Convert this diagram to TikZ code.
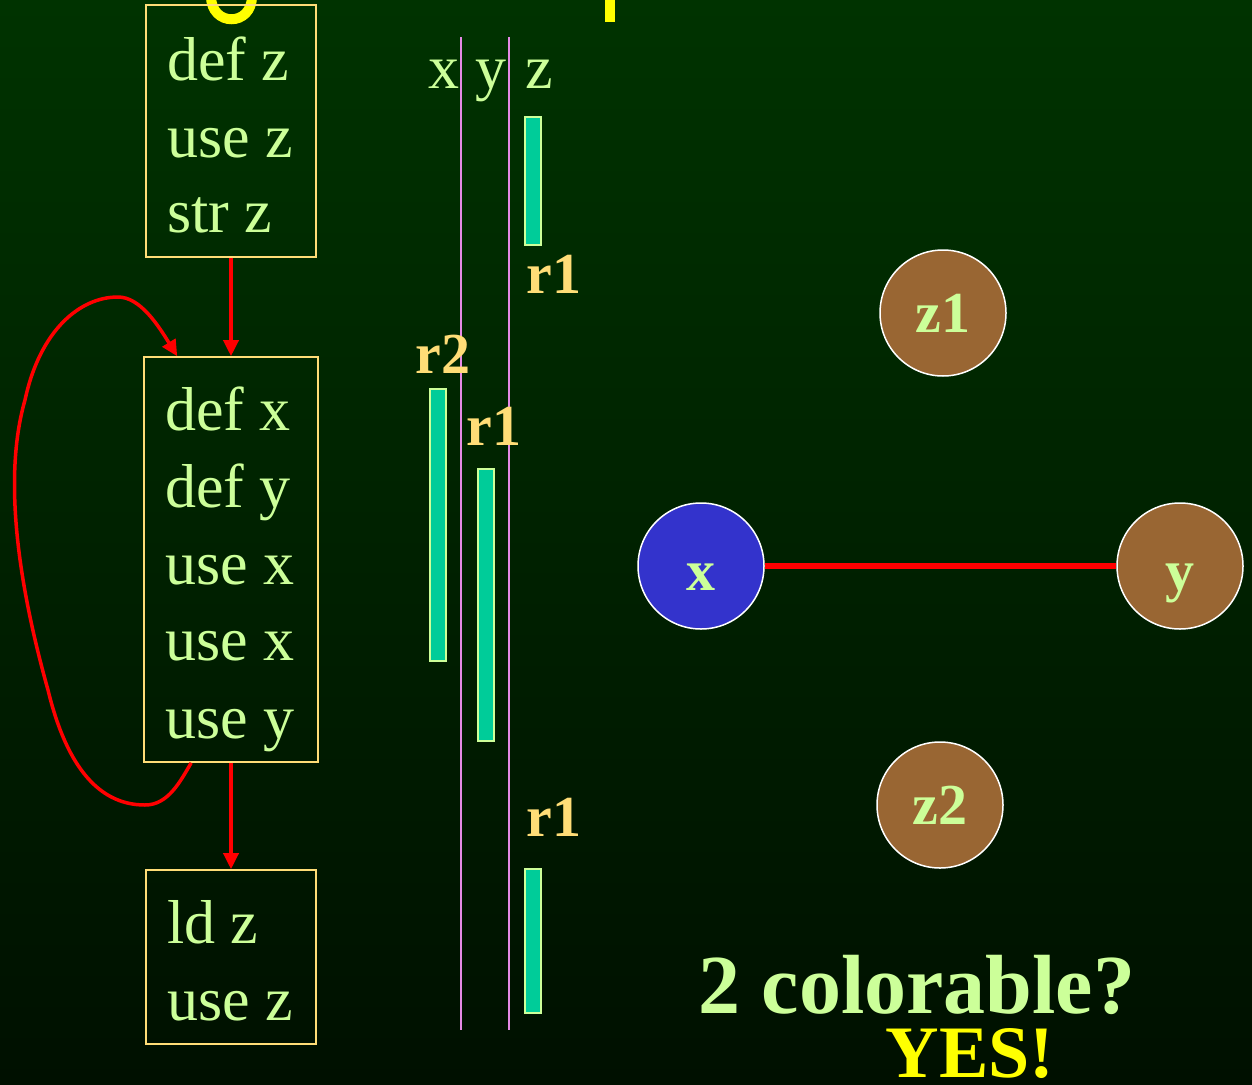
\documentclass[tikz,border=0pt]{standalone}
\usepackage{fontspec}
\setmainfont{Liberation Serif}
\usetikzlibrary{arrows.meta}
\definecolor{bgtop}{HTML}{003300}
\definecolor{bgbot}{HTML}{001000}
\definecolor{txt}{HTML}{CCFF99}
\definecolor{boxc}{HTML}{FFDD77}
\definecolor{lbl}{HTML}{FFDD77}
\definecolor{barc}{HTML}{00CC99}
\definecolor{pinkc}{HTML}{E58AE5}
\definecolor{brownc}{HTML}{996633}
\definecolor{bluec}{HTML}{3333CC}
\definecolor{yel}{HTML}{FFFF00}
\definecolor{redc}{HTML}{FF0000}
\tikzset{
  cfgbox/.style={draw=boxc, line width=1.6pt, rectangle, inner sep=0pt},
  code/.style={text=txt, anchor=base west, inner sep=0pt, font=\fontsize{62}{70}\selectfont},
  hdr/.style={text=txt, anchor=base, inner sep=0pt, font=\fontsize{62}{70}\selectfont},
  reg/.style={text=lbl, anchor=base, inner sep=0pt, font=\bfseries\fontsize{58}{64}\selectfont},
  rangebar/.style={fill=barc, draw=txt, line width=1.4pt},
  sep/.style={draw=pinkc, line width=1.5pt},
  flow/.style={draw=redc, line width=3.5pt, -{Triangle[length=16pt,width=15pt]}},
  gnode/.style={circle, draw=white, line width=1.5pt, minimum size=126pt, inner sep=0pt,
                text=txt, font=\bfseries\fontsize{58}{64}\selectfont},
  lowlabel/.style={text height=48pt, text depth=0pt},
  iedge/.style={draw=redc, line width=6pt}
}
\begin{document}
\begin{tikzpicture}[x=1pt,y=-1pt]
\shade[top color=bgtop, bottom color=bgbot] (0,0) rectangle (1252,1084);
\useasboundingbox (0,0) rectangle (1252,1084);

% title fragments (cut off at the top)
\draw[yel, line width=10pt] (211,-4) .. controls (211,27) and (252,27) .. (252,-4);
\fill[yel] (605,0) rectangle (615,22);

% CFG boxes
\node[cfgbox, minimum width=170pt, minimum height=252pt] (b1) at (231,131) {};
\node[cfgbox, minimum width=174pt, minimum height=405pt] (b2) at (231,559.5) {};
\node[cfgbox, minimum width=170pt, minimum height=174pt] (b3) at (231,957) {};

\node[code] (t11) at (167,80) {def z};
\node[code] (t12) at (167,157) {use z};
\node[code] (t13) at (167,232) {str z};

\node[code] (t21) at (165,430) {def x};
\node[code] (t22) at (165,507) {def y};
\node[code] (t23) at (165,584) {use x};
\node[code] (t24) at (165,660) {use x};
\node[code] (t25) at (165,738) {use y};

\node[code] (t31) at (167,943) {ld z};
\node[code] (t32) at (167,1020) {use z};

% CFG edges
\draw[flow] (b1.south) -- (b2.north);
\draw[flow] (b2.south) -- (b3.north);
\draw[flow] ([xshift=48pt]b2.south west) .. controls (180,782) and (168,805) .. (145,805)
  .. controls (95,805) and (65,760) .. (48,690)
  .. controls (20,590) and (2,480) .. (25,400)
  .. controls (40,330) and (80,297) .. (118,297)
  .. controls (140,297) and (158,325) .. ([xshift=34pt]b2.north west);

% live range columns
\coordinate (s1top) at (461,37); \coordinate (s1bot) at (461,1030);
\coordinate (s2top) at (509,37); \coordinate (s2bot) at (509,1030);
\draw[sep] (s1top) -- (s1bot);
\draw[sep] (s2top) -- (s2bot);

\node[hdr] (hx) at (444,88) {x};
\node[hdr] (hy) at (491,88) {y};
\node[hdr] (hz) at (539,88) {z};

\draw[rangebar] (525,117) rectangle (541,245);
\draw[rangebar] (430,389) rectangle (446,661);
\draw[rangebar] (478,469) rectangle (494,741);
\draw[rangebar] (525,869) rectangle (541,1013);

\node[reg] (ra) at (554,293) {r1};
\node[reg] (rb) at (443,373) {r2};
\node[reg] (rc) at (494,445) {r1};
\node[reg] (rd) at (554,836) {r1};

% interference graph
\node[gnode, fill=brownc] (z1) at (943,313) {z1};
\node[gnode, fill=bluec, lowlabel] (x) at (701,566) {x};
\node[gnode, fill=brownc, lowlabel] (y) at (1180,566) {y};
\node[gnode, fill=brownc] (z2) at (940,805) {z2};
\draw[iedge] (x) -- (y);

\node[text=txt, anchor=base, inner sep=0pt, font=\bfseries\fontsize{84}{90}\selectfont] (q) at (917,1013) {2 colorable?};
\node[text=yel, anchor=base, inner sep=0pt, font=\bfseries\fontsize{74}{80}\selectfont] (ans) at (970,1077) {YES!};
\end{tikzpicture}
\end{document}
